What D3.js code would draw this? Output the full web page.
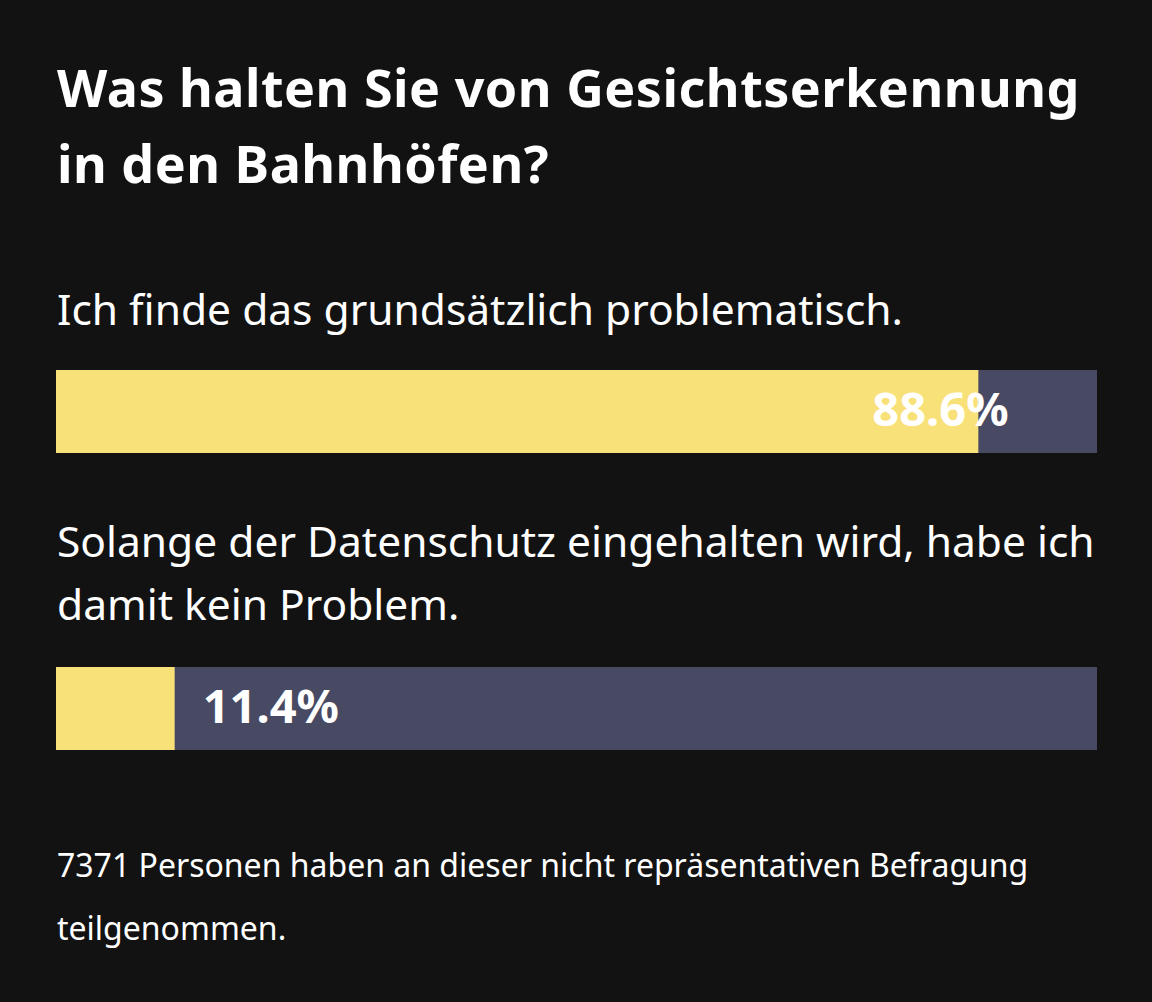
<!DOCTYPE html>
<html>
<head>
<meta charset="utf-8">
<script src="https://cdn.jsdelivr.net/npm/d3@7"></script>
<style>
  html, body { margin: 0; padding: 0; background: #121212; }
  svg { display: block; }
</style>
</head>
<body>
<svg id="chart" width="1152" height="1002"></svg>
<script>
const titleLines = ["Was halten Sie von Gesichtserkennung", "in den Bahnhöfen?"];
const categories = [
  ["Ich finde das grundsätzlich problematisch."],
  ["Solange der Datenschutz eingehalten wird, habe ich", "damit kein Problem."]
];
const values = [88.6, 11.4];
const valueLabels = ["88.6%", "11.4%"];
const footerLines = ["7371 Personen haben an dieser nicht repräsentativen Befragung", "teilgenommen."];

const W = 1152, H = 1002;
const svg = d3.select("#chart");
svg.append("rect").attr("width", W).attr("height", H).attr("fill", "#121212");

const FONT = "'Noto Sans', 'Open Sans', sans-serif";
const left = 56, right = 1097;
const x = d3.scaleLinear().domain([0, 100]).range([left, right]);

// Title
svg.append("g").selectAll("text").data(titleLines).join("text")
  .attr("x", 57)
  .attr("y", (d, i) => 107 + i * 76)
  .attr("fill", "#fff")
  .attr("font-family", FONT)
  .attr("font-weight", 700)
  .attr("font-size", 52)
  .attr("letter-spacing", 0.5)
  .text(d => d);

// Question blocks
const qBaseline = [325, 557];
const barTop = [370, 667];
const barH = 83;
const lineH = 63;

categories.forEach((lines, i) => {
  const g = svg.append("g");
  g.selectAll("text.q").data(lines).join("text")
    .attr("class", "q")
    .attr("x", 57)
    .attr("y", (d, j) => qBaseline[i] + j * lineH)
    .attr("fill", "#fff")
    .attr("font-family", FONT)
    .attr("font-size", 42.5)
    .text(d => d);

  g.append("rect")
    .attr("x", x(0)).attr("y", barTop[i])
    .attr("width", x(100) - x(0)).attr("height", barH)
    .attr("fill", "#484963");
  g.append("rect")
    .attr("x", x(0)).attr("y", barTop[i])
    .attr("width", x(values[i]) - x(0)).attr("height", barH)
    .attr("fill", "#f9e17a");

  const inside = values[i] > 50;
  g.append("text")
    .attr("x", inside ? x(values[i]) - 106 : x(values[i]) + 28)
    .attr("y", barTop[i] + 56)
    .attr("fill", "#fff")
    .attr("font-family", FONT)
    .attr("font-weight", 700)
    .attr("font-size", 47)
    .text(valueLabels[i]);
});

// Footer
svg.append("g").selectAll("text").data(footerLines).join("text")
  .attr("x", 57)
  .attr("y", (d, i) => 877 + i * 63)
  .attr("fill", "#fff")
  .attr("font-family", FONT)
  .attr("font-size", 32)
  .text(d => d);
</script>
</body>
</html>
